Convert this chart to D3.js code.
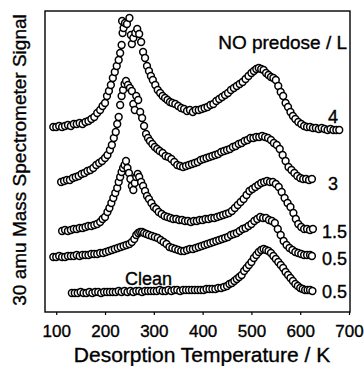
<!DOCTYPE html>
<html>
<head>
<meta charset="utf-8">
<script src="https://cdn.jsdelivr.net/npm/d3@7"></script>
<style>
  body { margin: 0; background: #fff; }
  text { font-family: "Liberation Sans", Arial, Helvetica, sans-serif; fill: #000; stroke: #000; stroke-width: 0.35px; }
</style>
</head>
<body>
<div id="chart"></div>
<script>
// [temperature K, signal], signal relative to each trace's own baseline
const no4 = [[94,0],[100,0],[106,1],[112,0],[118,1],[124,2],[130,1],[136,3],[142,3],[148,4],[154,3],[160,5],[166,6],[172,8],[178,10],[184,14],[190,17],[195,21],[200,24],[204,31],[208,36],[212,42],[216,49],[220,55],[224,61],[228,67],[231,74],[234,82],[236,94],[235,106],[238,99],[241,104],[245,103],[250,109],[253,92],[255,83],[258,89],[262,94],[266,98],[270,93],[274,85],[278,75],[282,69],[286,61],[290,56],[294,51],[298,47],[303,42],[308,37],[313,34],[318,31],[323,29],[328,27],[333,25],[338,24],[344,23],[350,21],[356,19],[362,18],[368,16],[374,17],[380,15],[386,17],[392,17],[398,18],[404,19],[410,20],[416,22],[422,23],[428,26],[434,28],[440,30],[446,32],[452,34],[458,37],[464,39],[470,41],[476,43],[482,45],[488,48],[494,51],[500,54],[505,56],[510,58],[515,59],[520,58],[525,57],[530,54],[535,52],[540,50],[545,49],[550,47],[555,41],[560,35],[565,31],[570,24],[575,20],[580,15],[585,11],[590,8],[596,5],[602,3],[608,1],[614,0],[620,0],[626,-1],[632,-1],[638,-2],[644,-1],[650,-2],[656,-3],[662,-2],[668,-3],[674,-3],[680,-3]];

const no3 = [[110,0],[116,1],[122,2],[128,2],[134,4],[140,5],[146,6],[152,8],[158,9],[164,11],[170,12],[176,14],[182,17],[188,19],[194,21],[200,24],[205,27],[210,32],[214,37],[218,44],[222,50],[225,58],[228,65],[231,77],[234,86],[237,92],[240,98],[243,101],[247,97],[251,94],[255,91],[258,78],[261,72],[264,86],[268,82],[272,70],[276,64],[280,56],[284,48],[288,44],[292,41],[297,38],[302,35],[307,33],[312,31],[318,29],[324,26],[330,25],[336,23],[342,20],[348,17],[354,16],[360,15],[366,16],[372,17],[378,18],[384,19],[390,20],[396,22],[402,23],[408,24],[414,25],[420,26],[426,27],[432,28],[438,30],[444,31],[450,32],[456,33],[462,35],[468,36],[474,38],[480,39],[486,41],[492,42],[498,44],[504,44],[510,45],[516,45],[522,46],[528,45],[534,44],[540,42],[546,39],[552,37],[558,33],[564,27],[570,21],[576,15],[582,12],[588,9],[594,6],[600,4],[606,3],[612,3],[618,2],[624,3]];

const no15 = [[112,0],[118,1],[124,0],[130,1],[136,2],[142,2],[148,3],[154,3],[160,4],[166,5],[172,5],[178,6],[184,7],[190,9],[195,12],[200,14],[205,19],[209,23],[213,28],[217,33],[221,38],[225,43],[228,49],[231,54],[234,59],[237,63],[240,66],[243,70],[246,63],[249,58],[252,52],[255,45],[258,41],[261,48],[264,54],[267,57],[270,54],[274,49],[278,45],[282,40],[286,35],[290,32],[295,28],[300,24],[305,22],[310,19],[316,17],[322,15],[328,14],[334,13],[340,12],[346,12],[352,11],[358,11],[364,10],[370,10],[376,9],[382,10],[388,10],[394,11],[400,11],[406,12],[412,12],[418,13],[424,13],[430,14],[436,15],[442,16],[448,17],[454,18],[460,20],[466,23],[472,26],[478,29],[484,32],[490,36],[496,40],[502,42],[508,44],[514,46],[520,48],[526,49],[532,50],[538,49],[544,49],[550,47],[556,44],[562,39],[568,33],[574,28],[580,24],[586,18],[591,12],[596,7],[602,4],[608,2],[614,2],[620,1],[626,2]];

const no05 = [[94,0],[100,0],[106,1],[112,0],[118,0],[124,1],[130,1],[136,1],[142,2],[148,1],[154,2],[160,2],[166,2],[172,3],[178,3],[184,3],[190,4],[196,4],[202,5],[208,6],[214,7],[220,8],[226,9],[232,10],[238,11],[244,12],[250,13],[255,15],[260,18],[264,22],[268,24],[272,25],[276,25],[280,24],[285,23],[290,22],[296,21],[302,20],[308,19],[314,17],[320,15],[326,13],[332,10],[338,9],[344,8],[350,7],[356,6],[362,6],[368,7],[374,8],[380,8],[386,9],[392,10],[398,11],[404,12],[410,13],[416,14],[422,15],[428,16],[434,17],[440,18],[446,19],[452,20],[458,22],[464,23],[470,24],[476,26],[482,28],[488,29],[494,31],[500,33],[506,36],[512,38],[518,40],[524,39],[530,39],[536,37],[542,36],[548,34],[554,28],[560,22],[566,16],[572,12],[578,9],[584,7],[590,5],[596,4],[602,3],[608,2],[614,2],[620,2],[624,1]];

const clean05 = [[132,0],[138,0],[144,0],[150,1],[156,0],[162,0],[168,1],[174,0],[180,1],[186,1],[192,0],[198,1],[204,1],[210,1],[216,1],[222,1],[228,2],[234,1],[240,2],[246,1],[252,2],[258,1],[264,2],[270,2],[276,1],[282,2],[288,2],[294,2],[300,2],[306,2],[312,3],[318,2],[324,2],[330,3],[336,2],[342,3],[348,3],[354,2],[360,3],[366,3],[372,3],[378,3],[384,3],[390,3],[396,3],[402,3],[408,4],[414,4],[420,4],[426,4],[432,5],[438,5],[444,6],[450,7],[455,9],[460,10],[465,12],[470,14],[475,16],[480,18],[485,22],[490,25],[495,28],[500,31],[505,35],[510,38],[515,41],[520,43],[525,44],[530,43],[535,42],[540,40],[545,37],[550,34],[555,31],[560,28],[565,25],[570,21],[575,18],[580,15],[585,12],[590,9],[595,7],[600,5],[605,4],[610,3],[615,3],[620,3],[625,2]];

const traces = [no4, no3, no15, no05, clean05];
const offsets = [185, 130, 81, 55, 19];          // vertical stacking of the traces
const doseLabels = ["4", "3", "1.5", "0.5", "0.5"];
const xTicks = [100, 200, 300, 400, 500, 600, 700];

const width = 364, height = 366;
const margin = { top: 11, right: 14, bottom: 54, left: 45 };

const svg = d3.select("#chart").append("svg")
    .attr("width", width)
    .attr("height", height);

const x = d3.scaleLinear()
    .domain([77, 702])
    .range([margin.left, width - margin.right]);

const y = d3.scaleLinear()
    .domain([0, 301])
    .range([height - margin.bottom, margin.top]);

// frame
svg.append("rect")
    .attr("x", margin.left)
    .attr("y", margin.top)
    .attr("width", width - margin.right - margin.left)
    .attr("height", height - margin.bottom - margin.top)
    .attr("fill", "none")
    .attr("stroke", "#000")
    .attr("stroke-width", 1.4);

const xAxis = d3.axisBottom(x)
    .tickValues(xTicks)
    .tickSizeInner(3)
    .tickSizeOuter(0)
    .tickPadding(10);

const gx = svg.append("g")
    .attr("transform", "translate(0," + (height - margin.bottom) + ")")
    .call(xAxis);
gx.select(".domain").remove();
gx.selectAll("line").attr("stroke-width", 1.2);
gx.selectAll("text")
    .style("font-family", "'Liberation Sans', Arial, sans-serif")
    .style("font-size", "17px")
    .style("stroke", "#000")
    .style("stroke-width", "0.35px");

// traces
traces.forEach((data, i) => {
    svg.append("g")
        .selectAll("circle")
        .data(data)
        .enter().append("circle")
        .attr("cx", d => x(d[0]))
        .attr("cy", d => y(d[1] + offsets[i]))
        .attr("r", 3.4)
        .attr("fill", "#fff")
        .attr("stroke", "#000")
        .attr("stroke-width", 1.5);
});

// dose labels at right end of each trace
const labelX = [328, 328, 322, 322, 322];
const labelY = [123, 190, 238, 265, 298];
doseLabels.forEach((t, i) => {
    svg.append("text")
        .attr("x", labelX[i])
        .attr("y", labelY[i])
        .style("font-size", "18px")
        .text(t);
});

svg.append("text")
    .attr("x", 347)
    .attr("y", 49)
    .attr("text-anchor", "end")
    .style("font-size", "19px")
    .text("NO predose / L");

svg.append("text")
    .attr("x", 125)
    .attr("y", 285)
    .style("font-size", "18px")
    .text("Clean");

svg.append("text")
    .attr("x", 202)
    .attr("y", 362)
    .attr("text-anchor", "middle")
    .style("font-size", "21px")
    .text("Desorption Temperature / K");

svg.append("text")
    .attr("transform", "translate(26,160) rotate(-90)")
    .attr("text-anchor", "middle")
    .style("font-size", "19px")
    .text("30 amu Mass Spectrometer Signal");
</script>
</body>
</html>
